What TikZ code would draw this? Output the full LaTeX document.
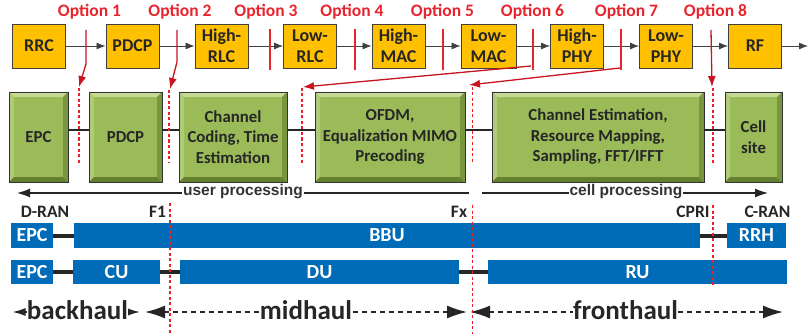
\documentclass[tikz,border=0pt]{standalone}
\usepackage{fontspec}
\setmainfont{Carlito}
\newfontfamily\arialf{Liberation Sans}
\usetikzlibrary{arrows.meta,calc}

\definecolor{orng}{RGB}{255,192,0}
\definecolor{gmain}{RGB}{155,187,89}
\definecolor{glight}{RGB}{196,218,150}
\definecolor{gmid}{RGB}{176,203,120}
\definecolor{gdark}{RGB}{100,128,48}
\definecolor{gdark2}{RGB}{120,150,62}
\definecolor{blu}{RGB}{0,107,182}
\definecolor{optred}{RGB}{232,36,46}
\definecolor{arrred}{RGB}{200,20,30}
\definecolor{dotred}{RGB}{240,30,40}
\definecolor{txt}{RGB}{38,38,38}

\tikzset{
  obox/.style={draw=black!75, line width=0.9pt, fill=orng, minimum width=53pt, minimum height=44pt,
    inner sep=0pt, align=center, font=\fontsize{18}{21}\selectfont\bfseries, text=txt},
  garrow/.style={-{Latex[length=9pt,width=7pt]}, draw=black!75, line width=0.8pt},
  opt/.style={font=\fontsize{17.5}{20}\selectfont\bfseries, text=optred, inner sep=0pt, anchor=base},
  rtick/.style={draw=optred, line width=1.3pt},
  rarrow/.style={draw=arrred, line width=1.3pt, -{Latex[length=11pt,width=8pt]}},
  rdot/.style={draw=dotred, line width=1.6pt, dash pattern=on 3pt off 2.5pt},
  gbox/.style={draw=black!80, line width=0.8pt, fill=gmain, minimum height=90pt, inner sep=0pt,
    align=center, font=\fontsize{16.8}{20.5}\selectfont\bfseries, text=txt,
    path picture={
      \fill[glight] (path picture bounding box.north west) -- (path picture bounding box.north east)
        -- ([shift={(-5pt,-5pt)}]path picture bounding box.north east)
        -- ([shift={(5pt,-5pt)}]path picture bounding box.north west) -- cycle;
      \fill[gmid] (path picture bounding box.north west) -- ([shift={(5pt,-5pt)}]path picture bounding box.north west)
        -- ([shift={(5pt,5pt)}]path picture bounding box.south west) -- (path picture bounding box.south west) -- cycle;
      \fill[gdark] (path picture bounding box.south west) -- (path picture bounding box.south east)
        -- ([shift={(-5pt,5pt)}]path picture bounding box.south east)
        -- ([shift={(5pt,5pt)}]path picture bounding box.south west) -- cycle;
      \fill[gdark2] (path picture bounding box.north east) -- ([shift={(-5pt,-5pt)}]path picture bounding box.north east)
        -- ([shift={(-5pt,5pt)}]path picture bounding box.south east) -- (path picture bounding box.south east) -- cycle;
    }},
  gline/.style={draw=black!85, line width=2.5pt},
  parrow/.style={draw=black!85, line width=1.3pt, -{Latex[length=13pt,width=9pt]}},
  ptxt/.style={font=\arialf\fontsize{15.5}{18}\selectfont\bfseries, text=black!80, fill=white, inner xsep=1pt, inner ysep=0pt},
  lbl/.style={font=\fontsize{17.5}{20}\selectfont\bfseries, text=txt, inner sep=0pt},
  bbox/.style={fill=blu, draw=none, inner sep=0pt, font=\fontsize{20}{24}\selectfont\bfseries, text=white},
  bline/.style={draw=black!85, line width=4pt},
  haul/.style={font=\fontsize{27}{30}\selectfont\bfseries, text=txt, fill=white, inner xsep=0pt, inner ysep=0pt},
  hsmall/.style={draw=black!85, line width=1.5pt, {Latex[length=13pt,width=8pt]}-{Latex[length=13pt,width=8pt]}},
  hbig/.style={draw=black!85, line width=1.6pt, dash pattern=on 5pt off 4pt, {Latex[length=20pt,width=13pt]}-{Latex[length=20pt,width=13pt]}}
}

\begin{document}
\begin{tikzpicture}[x=1pt,y=-1pt]
\useasboundingbox (0,0) rectangle (808,334);

% ---- top row: protocol stack ----
\node[obox] (rrc)  at (39,46) {RRC};
\node[obox] (pdcp1) at (132.5,46) {PDCP};
\node[obox] (hrlc) at (221.5,46) {High-\\RLC};
\node[obox] (lrlc) at (310,46) {Low-\\RLC};
\node[obox] (hmac) at (398.5,46) {High-\\MAC};
\node[obox, minimum width=55pt] (lmac) at (488.5,46) {Low-\\MAC};
\node[obox] (hphy) at (577,46) {High-\\PHY};
\node[obox] (lphy) at (666,46) {Low-\\PHY};
\node[obox] (rf)   at (755,46) {RF};
\coordinate (rfend) at (808,46);
\draw[garrow] (rrc) -- (pdcp1);
\draw[garrow] (pdcp1) -- (hrlc);
\draw[garrow] (hrlc) -- (lrlc);
\draw[garrow] (lrlc) -- (hmac);
\draw[garrow] (hmac) -- (lmac);
\draw[garrow] (lmac) -- (hphy);
\draw[garrow] (hphy) -- (lphy);
\draw[garrow] (lphy) -- (rf);
\draw[garrow] (rf) -- (rfend);

% ---- option labels ----
\node[opt] (o1) at (89.5,16.5) {Option 1};
\node[opt] (o2) at (180,16.5) {Option 2};
\node[opt] (o3) at (266,16.5) {Option 3};
\node[opt] (o4) at (352,16.5) {Option 4};
\node[opt] (o5) at (442.5,16.5) {Option 5};
\node[opt] (o6) at (532.5,16.5) {Option 6};
\node[opt] (o7) at (626.5,16.5) {Option 7};
\node[opt] (o8) at (715.5,16.5) {Option 8};

% ---- red split markers ----
\draw[rtick] (270,29) -- (270,70);
\draw[rtick] (355,29) -- (355,70);
\draw[rtick] (443,29) -- (443,70);
\draw[rtick] (533,29) -- (533,70);
\draw[rtick] (621,29) -- (621,70);
\draw[rarrow] (86,30) -- (86,64) -- (79,87);
\draw[rarrow] (177,30) -- (177,62) -- (170,89);
\draw[rarrow] (531,66) -- (303,87);
\draw[rarrow] (620,68) -- (469,85);
\draw[rarrow] (711,30) -- (712,87);

% ---- green function row ----
\node[gbox, minimum width=59pt] (epc) at (38.5,137) {EPC};
\node[gbox, minimum width=73pt] (pdcp2) at (125.5,137) {PDCP};
\node[gbox, minimum width=108pt] (chc) at (233,137) {Channel\\Coding, Time\\Estimation};
\node[gbox, minimum width=150pt] (ofdm) at (390,137) {OFDM,\\Equalization MIMO\\Precoding};
\node[gbox, minimum width=212pt] (che) at (598,137) {Channel Estimation,\\Resource Mapping,\\Sampling, FFT/IFFT};
\node[gbox, minimum width=57pt] (cell) at (753.5,137) {Cell\\site};
\draw[gline] ([yshift=7pt]epc.east) -- ([yshift=7pt]pdcp2.west);
\draw[gline] ([yshift=7pt]pdcp2.east) -- ([yshift=7pt]chc.west);
\draw[gline] ([yshift=7pt]chc.east) -- ([yshift=7pt]ofdm.west);
\draw[gline] ([yshift=7pt]ofdm.east) -- ([yshift=7pt]che.west);
\draw[gline] ([yshift=7pt]che.east) -- ([yshift=7pt]cell.west);

% ---- red dotted split lines (upper) ----
\draw[rdot] (79,88) -- (79,163);
\draw[rdot] (169,90) -- (169,163);
\draw[rdot] (302,88) -- (302,163);
\draw[rdot] (472.5,87) -- (472.5,163);
\draw[rdot] (713,88) -- (713,163);

% ---- processing arrows ----
\coordinate (upL) at (17,193);
\coordinate (upR) at (469,193);
\coordinate (cpL) at (482,193);
\coordinate (cpR) at (768,193);
\draw[parrow] (upR) -- (upL);
\draw[parrow] (cpL) -- (cpR);
\node[ptxt] (up) at (243,192) {user processing};
\node[ptxt] (cp) at (626,192) {cell processing};

% ---- labels ----
\node[lbl] (dran) at (45,212) {D-RAN};
\node[lbl] (f1) at (157.5,212) {F1};
\node[lbl] (fx) at (459,212) {Fx};
\node[lbl] (cpri) at (693,212) {CPRI};
\node[lbl] (cran) at (767.5,212) {C-RAN};

% ---- blue rows ----
\node[bbox, minimum width=42pt, minimum height=25pt] (epcA) at (32,235.5) {EPC};
\node[bbox, minimum width=626pt, minimum height=25pt] (bbu) at (387,235.5) {BBU};
\node[bbox, minimum width=59pt, minimum height=25pt] (rrh) at (756.5,235.5) {RRH};
\draw[bline] (epcA) -- (bbu);
\draw[bline] (bbu) -- (rrh);

\node[bbox, minimum width=42pt, minimum height=24pt] (epcB) at (32,272) {EPC};
\node[bbox, minimum width=87pt, minimum height=24pt] (cu) at (116.5,272) {CU};
\node[bbox, minimum width=279pt, minimum height=24pt] (du) at (319.5,272) {DU};
\node[bbox, minimum width=299pt, minimum height=24pt] (ru) at (637.5,272) {RU};
\draw[bline] (epcB) -- (cu);
\draw[bline] (cu) -- (du);
\draw[bline] (du) -- (ru);

% ---- haul arrows ----
\coordinate (bhL) at (12.5,312);
\coordinate (bhR) at (140,312);
\coordinate (mhL) at (145,312);
\coordinate (mhR) at (467,312);
\coordinate (fhL) at (470,312);
\coordinate (fhR) at (783,312);
\draw[hsmall] (bhL) -- (bhR);
\draw[hbig] (mhL) -- (mhR);
\draw[hbig] (fhL) -- (fhR);
\node[haul, anchor=base] (bh) at (77.5,319) {backhaul};
\node[haul, anchor=base] (mh) at (306,319) {midhaul};
\node[haul, anchor=base] (fh) at (625.5,319) {fronthaul};

% ---- red dotted split lines (lower) ----
\draw[rdot] (170,203) -- (170,334);
\draw[rdot] (472.5,205) -- (472.5,334);
\draw[rdot] (713,205) -- (713,287);
\end{tikzpicture}
\end{document}
